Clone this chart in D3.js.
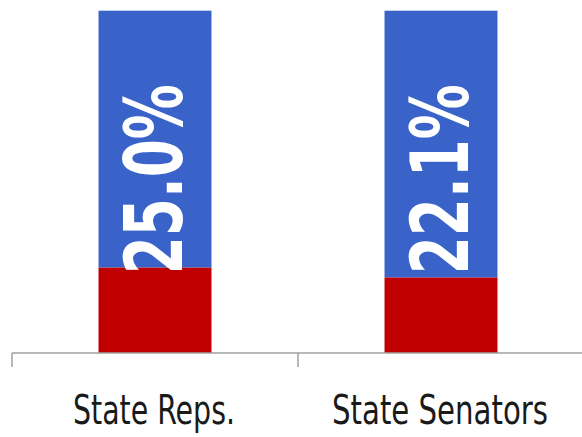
<!DOCTYPE html>
<html>
<head>
<meta charset="utf-8">
<script src="https://cdn.jsdelivr.net/npm/d3@7"></script>
<style>
  body { margin: 0; background: #fff; }
  svg { display: block; }
</style>
</head>
<body>
<div class="chart-container"></div>
<script>
const categories = ["State Reps.", "State Senators"];
const redValues = [25.0, 22.1];
const blueValues = [75.0, 77.9];
const valueLabels = ["25.0%", "22.1%"];

const width = 582;
const height = 437;

const x = d3.scaleBand()
    .domain(categories)
    .range([12, 584])
    .paddingInner(0)
    .paddingOuter(0);

const barWidth = x.bandwidth() * 0.395;

const y = d3.scaleLinear()
    .domain([0, 100])
    .range([353, 10.7]);

const svg = d3.select(".chart-container").append("svg")
    .attr("width", width)
    .attr("height", height);

// red (bottom) segment
svg.append("g")
    .selectAll("rect")
    .data(categories)
    .enter()
    .append("rect")
    .attr("x", d => x(d) + (x.bandwidth() - barWidth) / 2)
    .attr("width", barWidth)
    .attr("y", (d, i) => y(redValues[i]))
    .attr("height", (d, i) => y(0) - y(redValues[i]))
    .style("fill", "#c00000");

// blue (top) segment
svg.append("g")
    .selectAll("rect")
    .data(categories)
    .enter()
    .append("rect")
    .attr("x", d => x(d) + (x.bandwidth() - barWidth) / 2)
    .attr("width", barWidth)
    .attr("y", (d, i) => y(redValues[i] + blueValues[i]))
    .attr("height", (d, i) => y(redValues[i]) - y(redValues[i] + blueValues[i]))
    .style("fill", "#3a63c9");

// squeeze a text horizontally to a target width (condensed look)
const squeeze = (sel, target, cx, cy, rot) => {
    sel.each(function (d, i) {
        const len = this.getComputedTextLength();
        const s = target(d, i) / len;
        d3.select(this).attr("transform",
            `translate(${cx(d, i)},${cy(d, i)}) rotate(${rot}) scale(${s},1)`);
    });
};

// rotated value labels
svg.append("g")
    .selectAll("text")
    .data(categories)
    .enter()
    .append("text")
    .attr("text-anchor", "start")
    .style("font-family", "'Liberation Sans Narrow', 'DejaVu Sans Condensed', sans-serif")
    .style("font-weight", "bold")
    .style("font-size", "80px")
    .style("fill", "#fff")
    .text((d, i) => valueLabels[i])
    .call(squeeze, () => 190, d => x(d) + x.bandwidth() / 2 + 27, () => y(23), -90);

// axis line with ticks between categories
const axis = svg.append("g").attr("class", "axis");
axis.append("line")
    .attr("x1", x.range()[0])
    .attr("x2", x.range()[1])
    .attr("y1", y(0))
    .attr("y2", y(0))
    .style("stroke", "#a0a0a0")
    .style("stroke-width", 1.5);

axis.selectAll(".tick")
    .data(categories)
    .enter()
    .append("line")
    .attr("class", "tick")
    .attr("x1", d => x(d))
    .attr("x2", d => x(d))
    .attr("y1", y(0))
    .attr("y2", y(0) + 14)
    .style("stroke", "#a0a0a0")
    .style("stroke-width", 1.5);

// category labels
const labelWidths = [162, 216];
axis.selectAll(".cat")
    .data(categories)
    .enter()
    .append("text")
    .attr("class", "cat")
    .attr("text-anchor", "middle")
    .style("font-family", "'Liberation Sans Narrow', 'DejaVu Sans Condensed', sans-serif")
    .style("font-size", "41px")
    .style("fill", "#1a1a1a")
    .text(d => d)
    .call(squeeze, (d, i) => labelWidths[i], d => x(d) + x.bandwidth() / 2 - 1, () => 424, 0);
</script>
</body>
</html>
